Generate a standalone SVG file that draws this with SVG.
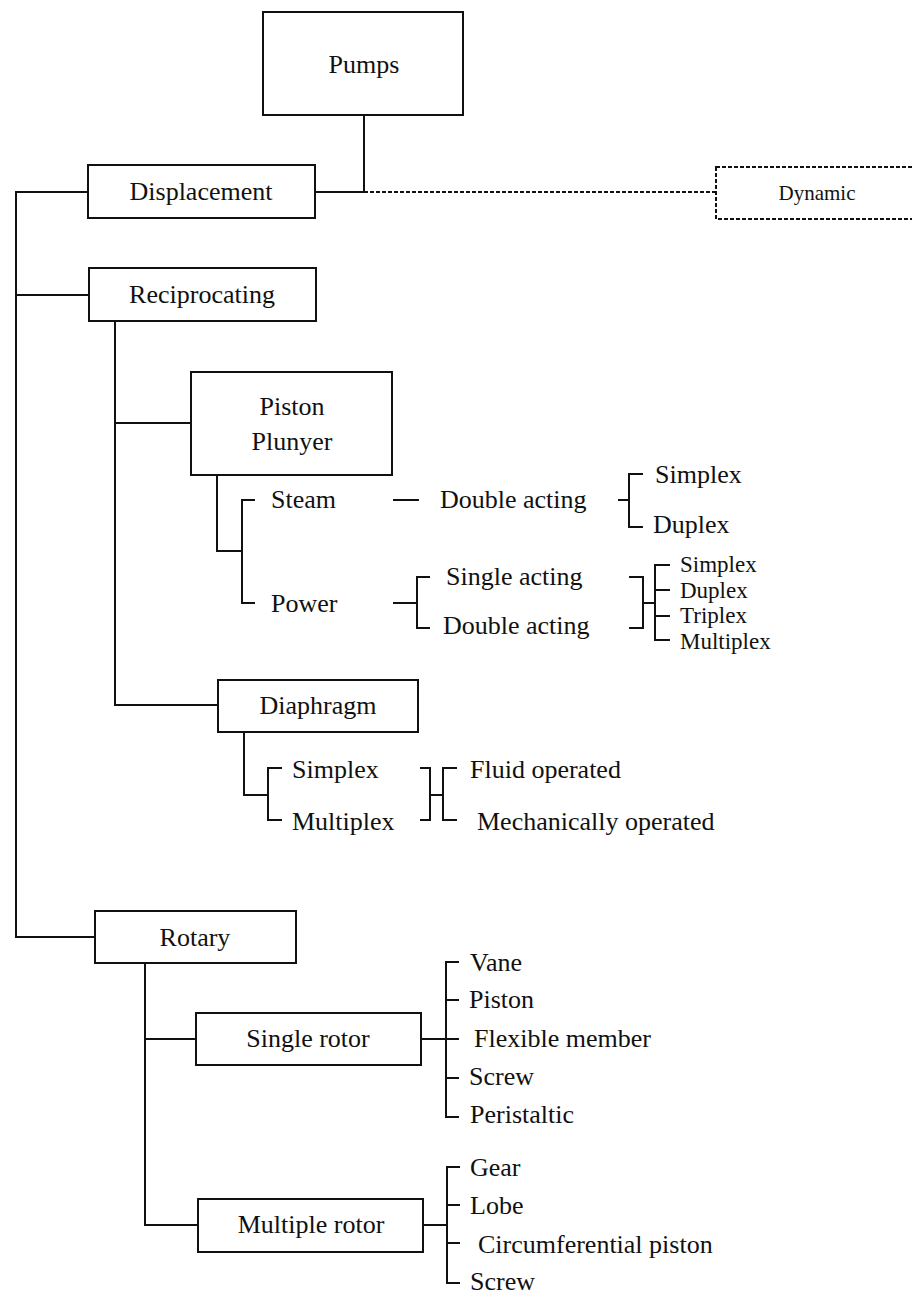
<svg xmlns="http://www.w3.org/2000/svg" width="912" height="1296" viewBox="0 0 912 1296">
<style>
.box{fill:#fff;stroke:#111;stroke-width:2}
.dash{fill:#fff;stroke:#111;stroke-width:2;stroke-dasharray:4 2}
.ln{fill:none;stroke:#111;stroke-width:2}
.dl{fill:none;stroke:#111;stroke-width:2;stroke-dasharray:4 2}
text{font-family:"Liberation Serif","Times New Roman",serif;font-size:26px;fill:#111}
.c{text-anchor:middle}
.s{font-size:21px}
.t{font-size:23px}
</style>
<rect width="912" height="1296" fill="#fff"/>
<g id="connectors">
<path class="ln" d="M364 115V192M315 192H364"/>
<path class="dl" d="M364 192H716"/>
<path class="ln" d="M88 192H16V937H95M16 295H89"/>
<path class="ln" d="M115 321V705H218M115 423H191"/>
<path class="ln" d="M217 475V551H242M255 500H242V603H255"/>
<path class="ln" d="M393 500H419"/>
<path class="ln" d="M618 500H629M643 474H629V527H643"/>
<path class="ln" d="M393 603H417M430 577H417V628H430"/>
<path class="ln" d="M629 577H643V628H629M643 603H655M670 565H655V640H670M655 590H670M655 616H670"/>
<path class="ln" d="M244 732V795H268M282 768H268V820H282"/>
<path class="ln" d="M420 768H430V820H420M430 795H443M457 768H443V820H457"/>
<path class="ln" d="M145 963V1225H198M145 1039H196"/>
<path class="ln" d="M421 1039H459M459 962H446V1117H459M446 1000H459M446 1078H459"/>
<path class="ln" d="M423 1225H447M460 1167H447V1283H460M447 1205H460M447 1243H460"/>
</g>
<g id="pumps"><rect class="box" x="263" y="12" width="200" height="103"/><text class="c" x="364" y="73">Pumps</text></g>
<g id="displacement"><rect class="box" x="88" y="165" width="227" height="53"/><text class="c" x="201" y="200">Displacement</text></g>
<g id="dynamic"><rect class="dash" x="716" y="167" width="220" height="52"/><text class="c s" x="817" y="200">Dynamic</text></g>
<g id="reciprocating"><rect class="box" x="89" y="268" width="227" height="53"/><text class="c" x="202" y="303">Reciprocating</text></g>
<g id="piston-plunyer"><rect class="box" x="191" y="372" width="201" height="103"/><text class="c" x="292" y="415">Piston</text><text class="c" x="292" y="450">Plunyer</text></g>
<g id="steam"><text x="271" y="508">Steam</text></g>
<g id="power"><text x="271" y="612">Power</text></g>
<g id="steam-double-acting"><text x="440" y="508">Double acting</text></g>
<g id="steam-simplex"><text x="655" y="483">Simplex</text></g>
<g id="steam-duplex"><text x="653" y="533">Duplex</text></g>
<g id="single-acting"><text x="446" y="585">Single acting</text></g>
<g id="power-double-acting"><text x="443" y="634">Double acting</text></g>
<g id="power-simplex"><text class="t" x="680" y="572">Simplex</text></g>
<g id="power-duplex"><text class="t" x="680" y="598">Duplex</text></g>
<g id="power-triplex"><text class="t" x="680" y="623">Triplex</text></g>
<g id="power-multiplex"><text class="t" x="680" y="649">Multiplex</text></g>
<g id="diaphragm"><rect class="box" x="218" y="680" width="200" height="52"/><text class="c" x="318" y="714">Diaphragm</text></g>
<g id="diaphragm-simplex"><text x="292" y="778">Simplex</text></g>
<g id="diaphragm-multiplex"><text x="292" y="830">Multiplex</text></g>
<g id="fluid-operated"><text x="470" y="778">Fluid operated</text></g>
<g id="mechanically-operated"><text x="477" y="830">Mechanically operated</text></g>
<g id="rotary"><rect class="box" x="95" y="911" width="201" height="52"/><text class="c" x="195" y="946">Rotary</text></g>
<g id="single-rotor"><rect class="box" x="196" y="1013" width="225" height="52"/><text class="c" x="308" y="1047">Single rotor</text></g>
<g id="vane"><text x="470" y="971">Vane</text></g>
<g id="sr-piston"><text x="469" y="1008">Piston</text></g>
<g id="flexible-member"><text x="474" y="1047">Flexible member</text></g>
<g id="sr-screw"><text x="469" y="1085">Screw</text></g>
<g id="peristaltic"><text x="470" y="1123">Peristaltic</text></g>
<g id="multiple-rotor"><rect class="box" x="198" y="1199" width="225" height="53"/><text class="c" x="311" y="1233">Multiple rotor</text></g>
<g id="gear"><text x="470" y="1176">Gear</text></g>
<g id="lobe"><text x="470" y="1214">Lobe</text></g>
<g id="circumferential-piston"><text x="478" y="1253">Circumferential piston</text></g>
<g id="mr-screw"><text x="470" y="1290">Screw</text></g>
</svg>
